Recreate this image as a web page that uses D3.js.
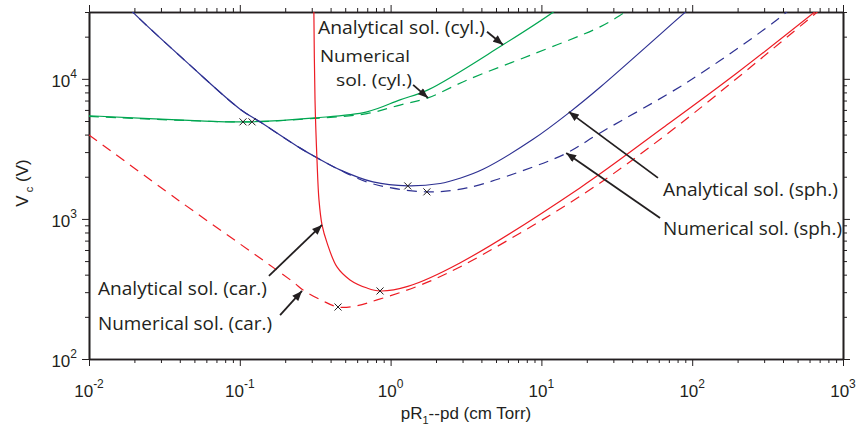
<!DOCTYPE html>
<meta charset="utf-8">
<script src="https://d3js.org/d3.v7.min.js"></script>
<style>
  body { margin: 0; background: #fff; }
  text { fill: #231f20; }
</style>
<svg id="chart" width="860" height="432"></svg>
<script>

// axis decades and their exponent labels
var decadesX = [0.01, 0.1, 1, 10, 100, 1000];
var expX = ["-2", "-1", "0", "1", "2", "3"];
var decadesY = [100, 1000, 10000];
var expY = ["2", "3", "4"];

// cartesian (red)
var carAnaX = [0.3095, 0.3153, 0.325, 0.335, 0.351, 0.379, 0.441, 0.538, 0.698, 0.851, 1.3, 2.88, 18.0, 64, 198, 700];
var carAnaY = [34000, 7080, 2640, 1367, 906, 674, 454, 367, 321, 306, 330, 485, 1665, 4470, 11000, 32000];
var carNumX = [0.01, 0.0389, 0.2256, 0.2625, 0.35, 0.448, 0.6, 0.813, 1.5, 2.88, 18.9, 77, 700];
var carNumY = [3980, 1367, 355, 311, 262, 235, 240, 264, 330, 454, 1500, 4470, 31000];

// spherical (blue)
var sphAnaX = [0.018, 0.0196, 0.045, 0.1, 0.136, 0.25, 0.325, 0.462, 0.764, 1.30, 2.13, 2.88, 4.10, 8.80, 15.5, 24.5, 89.6, 100];
var sphAnaY = [33000, 29800, 13000, 6100, 4930, 3215, 2730, 2240, 1836, 1720, 1790, 1950, 2260, 3700, 5810, 8700, 29800, 33000];
var sphNumX = [0.018, 0.0196, 0.045, 0.1, 0.136, 0.25, 0.325, 0.462, 0.764, 1.74, 3.21, 8.8, 14.8, 24.5, 93.8, 344, 470];
var sphNumY = [33000, 29800, 13000, 6100, 4930, 3215, 2730, 2230, 1780, 1560, 1665, 2350, 2960, 4110, 9530, 25100, 33000];

// cylindrical (green)
var cylAnaX = [0.01, 0.0545, 0.105, 0.315, 0.697, 1.154, 1.77, 5.56, 11.9, 13];
var cylAnaY = [5450, 5010, 4930, 5265, 5810, 7080, 8340, 17500, 29800, 32000];
var cylNumX = [0.01, 0.0545, 0.1205, 0.315, 0.697, 1.154, 1.77, 3.21, 8.8, 24.5, 35.8, 40];
var cylNumY = [5400, 5000, 4930, 5220, 5650, 6500, 7310, 9800, 15000, 23500, 29800, 32000];

// minima markers
var minX = [0.105, 0.1205, 1.30, 1.74, 0.851, 0.448];
var minY = [4930, 4930, 1720, 1560, 306, 235];

// annotation arrows: tail -> tip, in data units
var arrowFromX = [4.36, 1.41, 59.3, 61.2, 0.156, 0.185];
var arrowFromY = [21700, 9060, 1963, 1016, 392, 206];
var arrowToX = [5.56, 1.77, 15.2, 14.6, 0.351, 0.2585];
var arrowToY = [17500, 7310, 5810, 2960, 906, 306];

var colors = { car: "#ed1c24", sph: "#2e3192", cyl: "#00a651" };

var svg = d3.select("#chart");
var margin = { left: 89, right: 17, top: 12, bottom: 73 };
var width = 860 - margin.left - margin.right,
    height = 432 - margin.top - margin.bottom;

var x = d3.scaleLog().domain([0.01, 1000]).range([0, width]);
var y = d3.scaleLog().domain([100, 30000]).range([height, 0]);

var g = svg.append("g").attr("transform", "translate(" + margin.left + "," + margin.top + ")");

svg.append("defs").append("clipPath").attr("id", "clip")
  .append("rect").attr("width", width).attr("height", height);

svg.select("defs").append("marker")
  .attr("id", "head")
  .attr("viewBox", "0 0 10 8")
  .attr("refX", 10).attr("refY", 4)
  .attr("markerWidth", 11).attr("markerHeight", 8)
  .attr("markerUnits", "userSpaceOnUse")
  .attr("orient", "auto")
  .append("path").attr("d", "M0,0 L10,4 L0,8 z").attr("fill", "#231f20");

// minor ticks between decades
function minors(lo, hi) {
  var out = [];
  for (var e = lo; e < hi; e++)
    for (var k = 2; k <= 9; k++) out.push(k * Math.pow(10, e));
  return out;
}
var minorX = minors(-2, 3), minorY = minors(2, 5).filter(function(v) { return v <= 30000; });

function drawTicks(axisFn, scale, majors, minorsArr, transform) {
  var gm = g.append("g").attr("transform", transform)
    .call(axisFn(scale).tickValues(minorsArr).tickSize(4).tickSizeOuter(0).tickFormat(""));
  var gM = g.append("g").attr("transform", transform)
    .call(axisFn(scale).tickValues(majors).tickSize(7).tickSizeOuter(0).tickFormat(""));
  [gm, gM].forEach(function(a) {
    a.selectAll("line").attr("stroke", "#231f20").attr("stroke-width", 1);
    a.select(".domain").attr("stroke", "#231f20").attr("stroke-width", 1.6);
  });
}
drawTicks(d3.axisBottom, x, decadesX, minorX, "translate(0," + height + ")");
drawTicks(d3.axisTop, x, decadesX, minorX, "translate(0,0)");
drawTicks(d3.axisLeft, y, decadesY, minorY, "translate(0,0)");
drawTicks(d3.axisRight, y, decadesY, minorY, "translate(" + width + ",0)");

// tick labels 10^n
var tickFont = "'Liberation Sans', Arial, sans-serif";
decadesX.forEach(function(v, i) {
  var t = g.append("text")
    .attr("x", x(v)).attr("y", height + 38)
    .attr("text-anchor", "middle")
    .style("font-family", tickFont).style("font-size", "17px");
  t.append("tspan").text("10");
  t.append("tspan").attr("dy", -9).style("font-size", "12px").text(expX[i]);
});
decadesY.forEach(function(v, i) {
  var t = g.append("text")
    .attr("x", -12).attr("y", y(v) + 8)
    .attr("text-anchor", "end")
    .style("font-family", tickFont).style("font-size", "17px");
  t.append("tspan").text("10");
  t.append("tspan").attr("dy", -9).style("font-size", "12px").text(expY[i]);
});

// axis titles
var xt = svg.append("text")
  .attr("x", margin.left + width / 2).attr("y", 419)
  .attr("text-anchor", "middle")
  .style("font-family", tickFont).style("font-size", "17px");
xt.append("tspan").text("pR");
xt.append("tspan").attr("dy", 5).style("font-size", "11px").text("1");
xt.append("tspan").attr("dy", -5).text("--pd (cm Torr)");

var yt = svg.append("text")
  .attr("transform", "translate(28,183) rotate(-90)")
  .attr("text-anchor", "middle")
  .style("font-family", tickFont).style("font-size", "17px");
yt.append("tspan").text("V");
yt.append("tspan").attr("dy", 5).style("font-size", "11px").text(" c");
yt.append("tspan").attr("dy", -5).text(" (V)");

// curves
var plot = g.append("g").attr("clip-path", "url(#clip)");
var line = d3.line()
  .x(function(d) { return x(d[0]); })
  .y(function(d) { return y(d[1]); })
  .curve(d3.curveCatmullRom.alpha(0.5));

function series(xs, ys, color, dashed) {
  plot.append("path")
    .datum(d3.zip(xs, ys))
    .attr("d", line)
    .attr("fill", "none")
    .attr("stroke", color)
    .attr("stroke-width", 1.2)
    .attr("stroke-dasharray", dashed ? "10,7" : null);
}
series(cylNumX, cylNumY, colors.cyl, true);
series(cylAnaX, cylAnaY, colors.cyl, false);
series(sphNumX, sphNumY, colors.sph, true);
series(sphAnaX, sphAnaY, colors.sph, false);
series(carNumX, carNumY, colors.car, true);
series(carAnaX, carAnaY, colors.car, false);

// minima crosses
d3.zip(minX, minY).forEach(function(d) {
  var cx = x(d[0]), cy = y(d[1]), s = 3.5;
  plot.append("path")
    .attr("d", "M" + (cx - s) + "," + (cy - s) + "L" + (cx + s) + "," + (cy + s) +
               "M" + (cx - s) + "," + (cy + s) + "L" + (cx + s) + "," + (cy - s))
    .attr("stroke", "#231f20").attr("stroke-width", 1);
});

// arrows
d3.range(arrowFromX.length).forEach(function(i) {
  g.append("line")
    .attr("x1", x(arrowFromX[i])).attr("y1", y(arrowFromY[i]))
    .attr("x2", x(arrowToX[i])).attr("y2", y(arrowToY[i]))
    .attr("stroke", "#231f20").attr("stroke-width", 1.8)
    .attr("marker-end", "url(#head)");
});

// annotation labels (pixel layout); a label may wrap onto several lines
var noteFont = "'Open Sans', 'Noto Sans', sans-serif";
var notes = [
  { size: 18, lines: [{ t: "Analytical sol. (cyl.)", x: 318, y: 34, w: 167 }] },
  { size: 17, lines: [{ t: "Numerical", x: 320, y: 62, w: 90 }, { t: "sol. (cyl.)", x: 336, y: 86, w: 76 }] },
  { size: 18, lines: [{ t: "Analytical sol. (sph.)", x: 663, y: 196, w: 175 }] },
  { size: 18, lines: [{ t: "Numerical sol. (sph.)", x: 663, y: 235, w: 179 }] },
  { size: 18, lines: [{ t: "Analytical sol. (car.)", x: 98, y: 295, w: 169 }] },
  { size: 18, lines: [{ t: "Numerical sol. (car.)", x: 98, y: 330, w: 174 }] }
];
notes.forEach(function(n) {
  var t = svg.append("text")
    .style("font-family", noteFont).style("font-size", n.size + "px");
  n.lines.forEach(function(l) {
    t.append("tspan")
      .attr("x", l.x).attr("y", l.y)
      .attr("textLength", l.w).attr("lengthAdjust", "spacingAndGlyphs")
      .text(l.t);
  });
});

</script>
